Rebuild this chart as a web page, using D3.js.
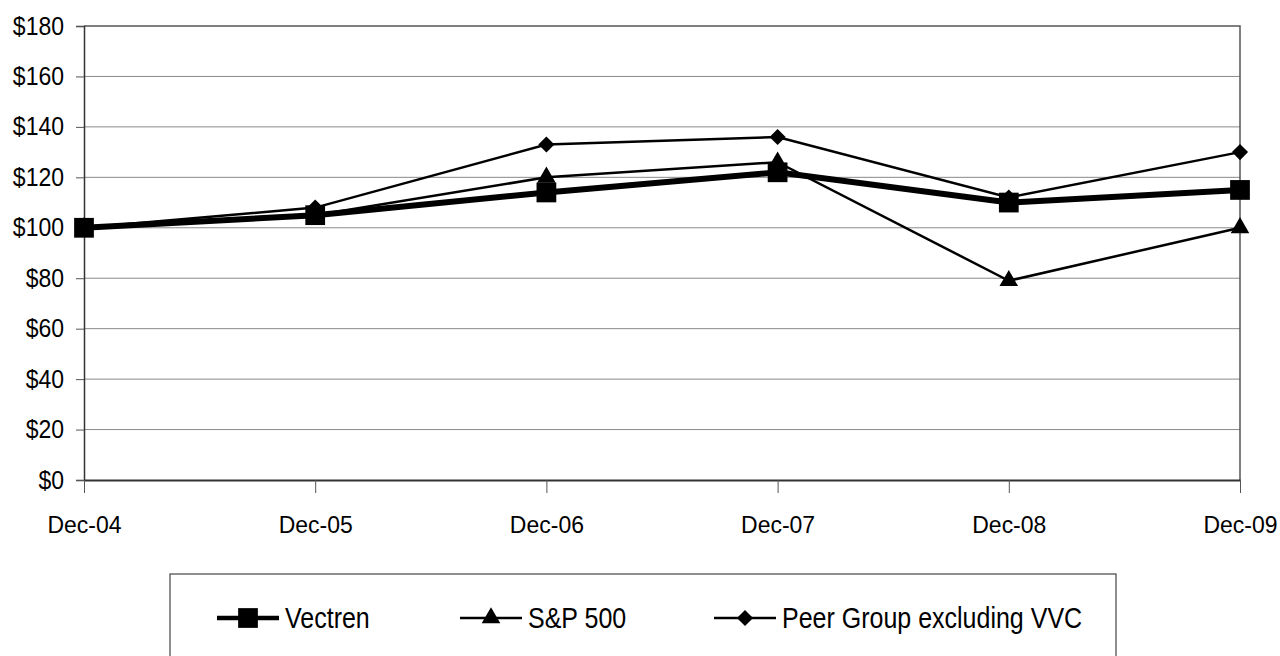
<!DOCTYPE html>
<html>
<head>
<meta charset="utf-8">
<script src="https://cdn.jsdelivr.net/npm/d3@7"></script>
<style>
  body { margin: 0; background: #fff; }
  text { font-family: "Liberation Sans", Arial, sans-serif; fill: #000; }
</style>
</head>
<body>
<div id="chart-area"></div>
<script>
// DATA
var periods = ["Dec-04", "Dec-05", "Dec-06", "Dec-07", "Dec-08", "Dec-09"];
var vectren = [100, 105, 114, 122, 110, 115];
var sp500   = [100, 105, 120, 126, 79, 100];
var peer    = [100, 108, 133, 136, 112, 130];
var yTicks  = [0, 20, 40, 60, 80, 100, 120, 140, 160, 180];

// diamond = square turned 45 degrees
var diamondWide = {
    draw: function(context, size) {
        var r = Math.sqrt(size / 2);
        context.moveTo(0, -r);
        context.lineTo(r, 0);
        context.lineTo(0, r);
        context.lineTo(-r, 0);
        context.closePath();
    }
};

var series = [
    { name: "Vectren", values: vectren, symbol: d3.symbolSquare, size: 390, width: 6, legendWidth: 4.5 },
    { name: "S&P 500", values: sp500, symbol: d3.symbolTriangle, size: 150, width: 2.5, legendWidth: 2.5 },
    { name: "Peer Group excluding VVC", values: peer, symbol: diamondWide, size: 130, width: 2.5, legendWidth: 2.5 }
];

var margin = { left: 84, right: 40, top: 26, bottom: 176 };
var width = 1280 - margin.left - margin.right,
    height = 656 - margin.top - margin.bottom;

var svg = d3.select("#chart-area")
    .append("svg")
        .attr("width", 1280)
        .attr("height", 656);

var g = svg.append("g")
    .attr("transform", "translate(" + margin.left + "," + margin.top + ")");

// SCALES
var x = d3.scalePoint()
    .domain(periods)
    .range([0, width]);

var y = d3.scaleLinear()
    .domain([0, 180])
    .range([height, 0]);

// GRIDLINES
g.append("g")
    .selectAll("line")
    .data(yTicks.filter(function(d) { return d > 0 && d < 180; }))
    .enter().append("line")
        .attr("x1", 0)
        .attr("x2", width)
        .attr("y1", function(d) { return y(d); })
        .attr("y2", function(d) { return y(d); })
        .attr("stroke", "#8a8a8a")
        .attr("stroke-width", 1);

// FRAME (top + right)
g.append("path")
    .attr("d", "M0,0H" + width + "V" + height)
    .attr("fill", "none")
    .attr("stroke", "#555")
    .attr("stroke-width", 1.5);

// Y AXIS
var yAxisCall = d3.axisLeft(y)
    .tickValues(yTicks)
    .tickSize(8)
    .tickPadding(12)
    .tickFormat(function(d) { return "$" + d; });
var yAxis = g.append("g").call(yAxisCall);
yAxis.select(".domain").attr("stroke", "#333").attr("stroke-width", 1.5);
yAxis.selectAll(".tick line").attr("stroke", "#555");
yAxis.selectAll("text")
    .attr("font-size", "23px")
    .attr("font-family", "'Liberation Sans', Arial, sans-serif")
    .attr("fill", "#000")
    .attr("x", null)
    .attr("dy", null)
    .attr("transform", "translate(-20,8) scale(1,1.1)");

// X AXIS
var xAxisCall = d3.axisBottom(x)
    .tickSize(13)
    .tickPadding(16)
    .tickSizeOuter(0);
var xAxis = g.append("g")
    .attr("transform", "translate(0," + height + ")")
    .call(xAxisCall);
xAxis.select(".domain").attr("stroke", "#333").attr("stroke-width", 2);
xAxis.selectAll(".tick line").attr("stroke", "#555");
xAxis.selectAll("text")
    .attr("font-size", "23px")
    .attr("font-family", "'Liberation Sans', Arial, sans-serif")
    .attr("fill", "#000")
    .attr("y", null)
    .attr("dy", null)
    .attr("transform", "translate(0,53) scale(1,1.08)");

// LINES
var line = d3.line()
    .x(function(d, i) { return x(periods[i]); })
    .y(function(d) { return y(d); });

// draw thinner lines first, Vectren on top
[series[2], series[1], series[0]].forEach(function(s) {
    g.append("path")
        .datum(s.values)
        .attr("fill", "none")
        .attr("stroke", "#000")
        .attr("stroke-width", s.width)
        .attr("d", line);

    g.selectAll(null)
        .data(s.values)
        .enter().append("path")
            .attr("transform", function(d, i) { return "translate(" + x(periods[i]) + "," + y(d) + ")"; })
            .attr("d", d3.symbol().type(s.symbol).size(s.size))
            .attr("fill", "#000");
});

// LEGEND
var legend = svg.append("g");
legend.append("rect")
    .attr("x", 170)
    .attr("y", 574)
    .attr("width", 946)
    .attr("height", 100)
    .attr("fill", "#fff")
    .attr("stroke", "#444")
    .attr("stroke-width", 1.2);

var legendX = [217, 460, 714];
series.forEach(function(s, i) {
    var row = legend.append("g")
        .attr("transform", "translate(" + legendX[i] + ",618)");
    row.append("line")
        .attr("x1", 0).attr("x2", 62)
        .attr("stroke", "#000")
        .attr("stroke-width", s.legendWidth);
    row.append("path")
        .attr("transform", "translate(31,0)")
        .attr("d", d3.symbol().type(s.symbol).size(s.size))
        .attr("fill", "#000");
    row.append("text")
        .attr("transform", "translate(68,10) scale(1,1.2)")
        .attr("font-size", "25px")
        .text(s.name);
});
</script>
</body>
</html>
